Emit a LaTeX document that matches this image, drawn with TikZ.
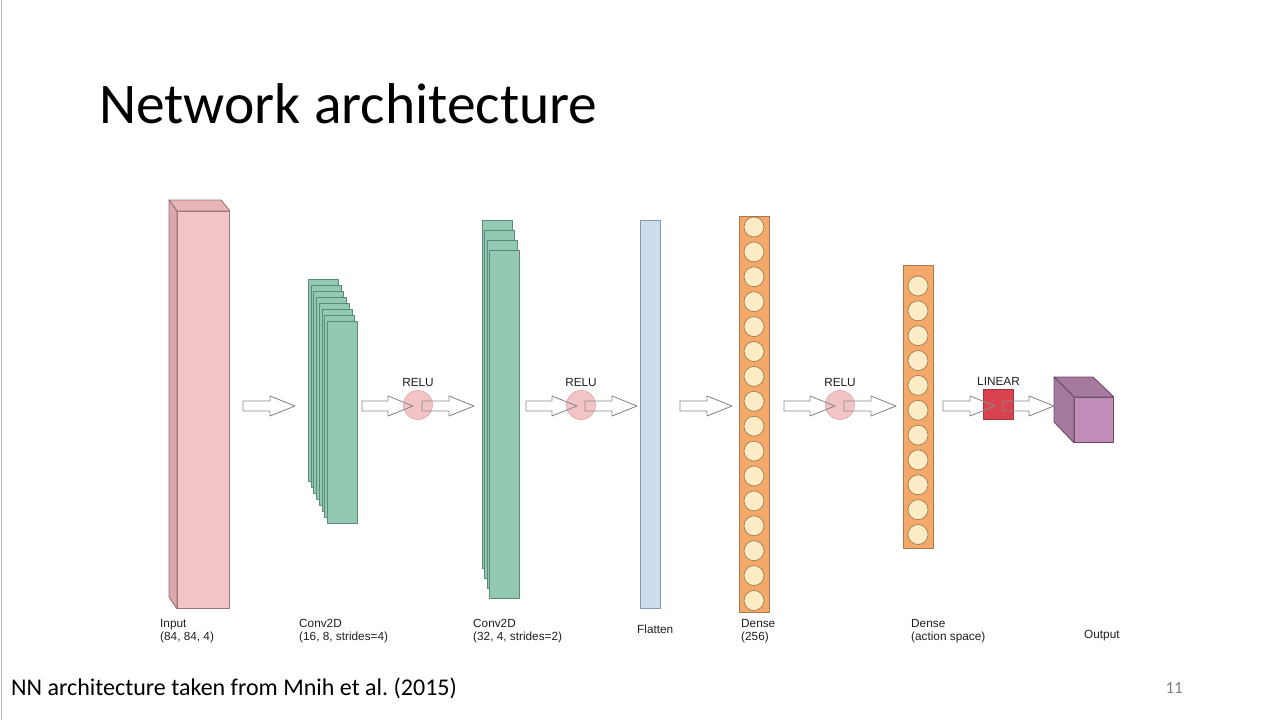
\documentclass[tikz,border=0pt]{standalone}
\usepackage{fontspec}
\setmainfont{Carlito}
\newfontfamily\LabelFont{Liberation Sans}
\usepackage{tikz}
\usetikzlibrary{
  calc,
  positioning
}
\definecolor{NetPink}{HTML}{F2C4C6}
\definecolor{NetPinkSide}{HTML}{DBA7AB}
\definecolor{NetPinkTop}{HTML}{E7B6B9}
\definecolor{NetPinkDraw}{HTML}{9E7275}
\definecolor{NetGreen}{HTML}{93C8B3}
\definecolor{NetGreenDraw}{HTML}{5C8A78}
\definecolor{NetBlue}{HTML}{CCDDEE}
\definecolor{NetBlueDraw}{HTML}{8498B0}
\definecolor{NetOrange}{HTML}{F4A96A}
\definecolor{NetOrangeDraw}{HTML}{A8794F}
\definecolor{NetCream}{HTML}{FDEBC6}
\definecolor{NetCreamDraw}{HTML}{9E7E4E}
\definecolor{NetRelu}{HTML}{F2C4C6}
\definecolor{NetReluDraw}{HTML}{E2AAAE}
\definecolor{NetRed}{HTML}{D9434F}
\definecolor{NetRedDraw}{HTML}{A83240}
\definecolor{NetPurple}{HTML}{C08DB8}
\definecolor{NetPurpleSide}{HTML}{A67A9F}
\definecolor{NetPurpleDraw}{HTML}{6E4A68}
\definecolor{NetArrow}{HTML}{8A8A8A}
\tikzset{
  every picture/.style = {line join=round},
  layer/.style = {
    anchor=north west,
    inner sep=0pt,
    line width=0.9pt
  },
  layer input/.style = {layer, draw=NetPinkDraw, fill=NetPink},
  layer conv/.style = {layer, draw=NetGreenDraw, fill=NetGreen, minimum width=30pt},
  layer flat/.style = {layer, draw=NetBlueDraw, fill=NetBlue},
  layer dense/.style = {layer, draw=NetOrangeDraw, fill=NetOrange, minimum width=30pt},
  layer out/.style = {layer, draw=NetPurpleDraw, fill=NetPurple},
  face/.style = {draw=#1Draw, line width=0.9pt},
  neuron/.style = {
    circle,
    draw=NetCreamDraw,
    fill=NetCream,
    line width=0.7pt,
    minimum size=20pt,
    inner sep=0pt
  },
  relu/.style = {
    circle,
    draw=NetReluDraw,
    fill=NetRelu,
    line width=0.7pt,
    minimum size=29pt,
    inner sep=0pt
  },
  linear/.style = {
    draw=NetRedDraw,
    fill=NetRed,
    line width=0.7pt,
    minimum size=30pt,
    inner sep=0pt
  },
  act label/.style = {
    font=\LabelFont\fontsize{11.8}{13.5}\selectfont,
    inner sep=0pt,
    text=black!88
  },
  layer label/.style = {
    font=\LabelFont\fontsize{11.8}{13.5}\selectfont,
    anchor=north west,
    align=left,
    inner sep=0pt,
    text=black!88
  },
  block arrow/.style = {draw=NetArrow, line width=0.9pt}
}
\newcommand{\BlockArrow}[2]{%
  \draw[block arrow] let \p1=(#1), \p2=(#2) in
    (\x1,\y1+5pt) -- (\x2-25pt,\y1+5pt) -- (\x2-25pt,\y1+10pt) -- (\x2,\y1)
    -- (\x2-25pt,\y1-10pt) -- (\x2-25pt,\y1-5pt) -- (\x1,\y1-5pt) -- cycle;%
}

\begin{document}
\begin{tikzpicture}[x=1pt,y=-1pt]
  \useasboundingbox (0,0) rectangle (1280,720);
  \fill[white] (0,0) rectangle (1280,720);
  \draw[black!30, line width=1pt] (1,0) -- (1,720);

  \node[anchor=base west, inner sep=0pt, font=\fontsize{57.5}{60}\selectfont] (title) at (99,123) {Network architecture};

  \node[layer input, minimum width=52pt, minimum height=397pt] (input) at (177,211) {};
  \draw[face=NetPink, fill=NetPinkTop] (input.north west) -- ++(-8,-11) -- ++(52,0) -- (input.north east) -- cycle;
  \draw[face=NetPink, fill=NetPinkSide] (input.north west) -- ++(-8,-11) -- ++(0,397) -- (input.south west) -- cycle;

  \foreach \i in {0,...,7} {
    \node[layer conv, minimum height=202pt] (conva\i) at ({308+2.7*\i},{279+6*\i}) {};
  }
  \foreach \i in {0,...,3} {
    \node[layer conv, minimum height=348pt] (convb\i) at ({482+2.4*\i},{220+10*\i}) {};
  }

  \node[layer flat, minimum width=20pt, minimum height=388pt] (flat) at (640,220) {};

  \node[layer dense, minimum height=396pt] (densea) at (739,216) {};
  \foreach \k in {0,...,15} {
    \node[neuron] (na\k) at (754,{227+24.9*\k}) {};
  }
  \node[layer dense, minimum height=283pt] (denseb) at (903,265) {};
  \foreach \k in {0,...,10} {
    \node[neuron] (nb\k) at (918,{286+24.85*\k}) {};
  }

  \node[relu] (relua) at (418,405) {};
  \node[relu] (relub) at (581,405) {};
  \node[relu] (reluc) at (840,405) {};
  \node[linear] (lin) at (998.5,404) {};
  \node[act label, above=3pt of relua] (relualab) {RELU};
  \node[act label, above=3pt of relub] (relublab) {RELU};
  \node[act label, above=3pt of reluc] (reluclab) {RELU};
  \node[act label, above=3pt of lin] (linlab) {LINEAR};

  \node[layer out, minimum width=39pt, minimum height=45pt] (output) at (1074,397) {};
  \draw[face=NetPurple, fill=NetPurpleSide] (output.north west) -- ++(-20,-20) -- ++(39,0) -- (output.north east) -- cycle;
  \draw[face=NetPurple, fill=NetPurpleSide] (output.north west) -- ++(-20,-20) -- ++(0,45) -- (output.south west) -- cycle;

  \coordinate (a1s) at (243,406);  \coordinate (a1e) at (295,406);
  \coordinate (a2s) at (362,406);  \coordinate (a2e) at (413,406);
  \coordinate (a3s) at (422,406);  \coordinate (a3e) at (474,406);
  \coordinate (a4s) at (526,406);  \coordinate (a4e) at (577,406);
  \coordinate (a5s) at (585,406);  \coordinate (a5e) at (637,406);
  \coordinate (a6s) at (680,406);  \coordinate (a6e) at (732,406);
  \coordinate (a7s) at (784,406);  \coordinate (a7e) at (835,406);
  \coordinate (a8s) at (844,406);  \coordinate (a8e) at (896,406);
  \coordinate (a9s) at (943,406);  \coordinate (a9e) at (995,406);
  \coordinate (a10s) at (1003,406); \coordinate (a10e) at (1054,406);
  \foreach \a in {1,...,10} {
    \BlockArrow{a\a s}{a\a e}
  }

  \node[layer label] (inputlab) at (160,619) {Input\\(84, 84, 4)};
  \node[layer label] (convalab) at (299,619) {Conv2D\\(16, 8, strides=4)};
  \node[layer label] (convblab) at (473,619) {Conv2D\\(32, 4, strides=2)};
  \node[layer label] (flatlab) at (637,625) {Flatten};
  \node[layer label] (densealab) at (741,619) {Dense\\(256)};
  \node[layer label] (densebab) at (911,619) {Dense\\(action space)};
  \node[layer label] (outputlab) at (1084,630) {Output};

  \node[anchor=base west, inner sep=0pt, font=\fontsize{24}{26}\selectfont] (source) at (11,695) {NN architecture taken from Mnih et al.\ (2015)};
  \node[anchor=base east, inner sep=0pt, text=black!50, font=\fontsize{17}{19}\selectfont] (pagenum) at (1183,693) {11};
\end{tikzpicture}
\end{document}
